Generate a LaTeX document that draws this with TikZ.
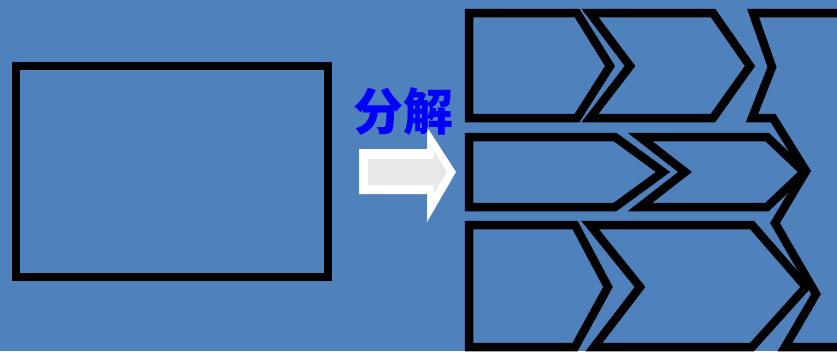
\documentclass[tikz,border=0pt]{standalone}
\usepackage{fontspec}
\newfontfamily\cjk{Noto Sans CJK SC}
\definecolor{bg}{HTML}{4F81BD}
\definecolor{arrowfill}{HTML}{E8E8E8}
\tikzset{
  shp/.style={draw=black, line width=8.5pt, miter limit=10},
  arrowout/.style={fill=white},
  arrowin/.style={fill=arrowfill},
  lbl/.style={text=blue, font=\cjk\bfseries\fontsize{50}{50}\selectfont, inner sep=0pt}
}
\begin{document}
\begin{tikzpicture}[x=1pt,y=-1pt]
\useasboundingbox (0,0) rectangle (837,351);
\fill[bg] (0,0) rectangle (837,351);
\clip (0,0) rectangle (837,351);
% original block
\draw[shp] (16,66) rectangle (328,277);
% arrow and label
\fill[arrowout] (359,149) -- (427,149) -- (427,127) -- (456,172) -- (427,222) -- (427,194) -- (359,194) -- cycle;
\fill[arrowin] (368,159) -- (434,159) -- (434,151) -- (447,172) -- (434,193) -- (434,185) -- (368,185) -- cycle;
\node[lbl] (t) at (403,112) {分解};
% right column shape
\draw[shp] (753,13) -- (842,13) -- (842,347) -- (785,347) -- (816,294) -- (775,223) -- (806,171) -- (773,118) -- (752,118) -- (772,67) -- cycle;
% row 1
\draw[shp] (469,13) -- (577,13) -- (610,66) -- (577,118) -- (469,118) -- cycle;
\draw[shp] (590,13) -- (713,13) -- (750,66) -- (713,118) -- (590,118) -- (630,66) -- cycle;
% row 2
\draw[shp] (469,137) -- (615,137) -- (663,172) -- (615,207) -- (469,207) -- cycle;
\draw[shp] (640,137) -- (767,137) -- (804,172) -- (767,207) -- (640,207) -- (685,172) -- cycle;
% row 3
\draw[shp] (469,225) -- (575,225) -- (608,287) -- (575,347) -- (469,347) -- cycle;
\draw[shp] (590,225) -- (752,225) -- (806,287) -- (752,347) -- (594,347) -- (640,287) -- cycle;
\end{tikzpicture}
\end{document}
